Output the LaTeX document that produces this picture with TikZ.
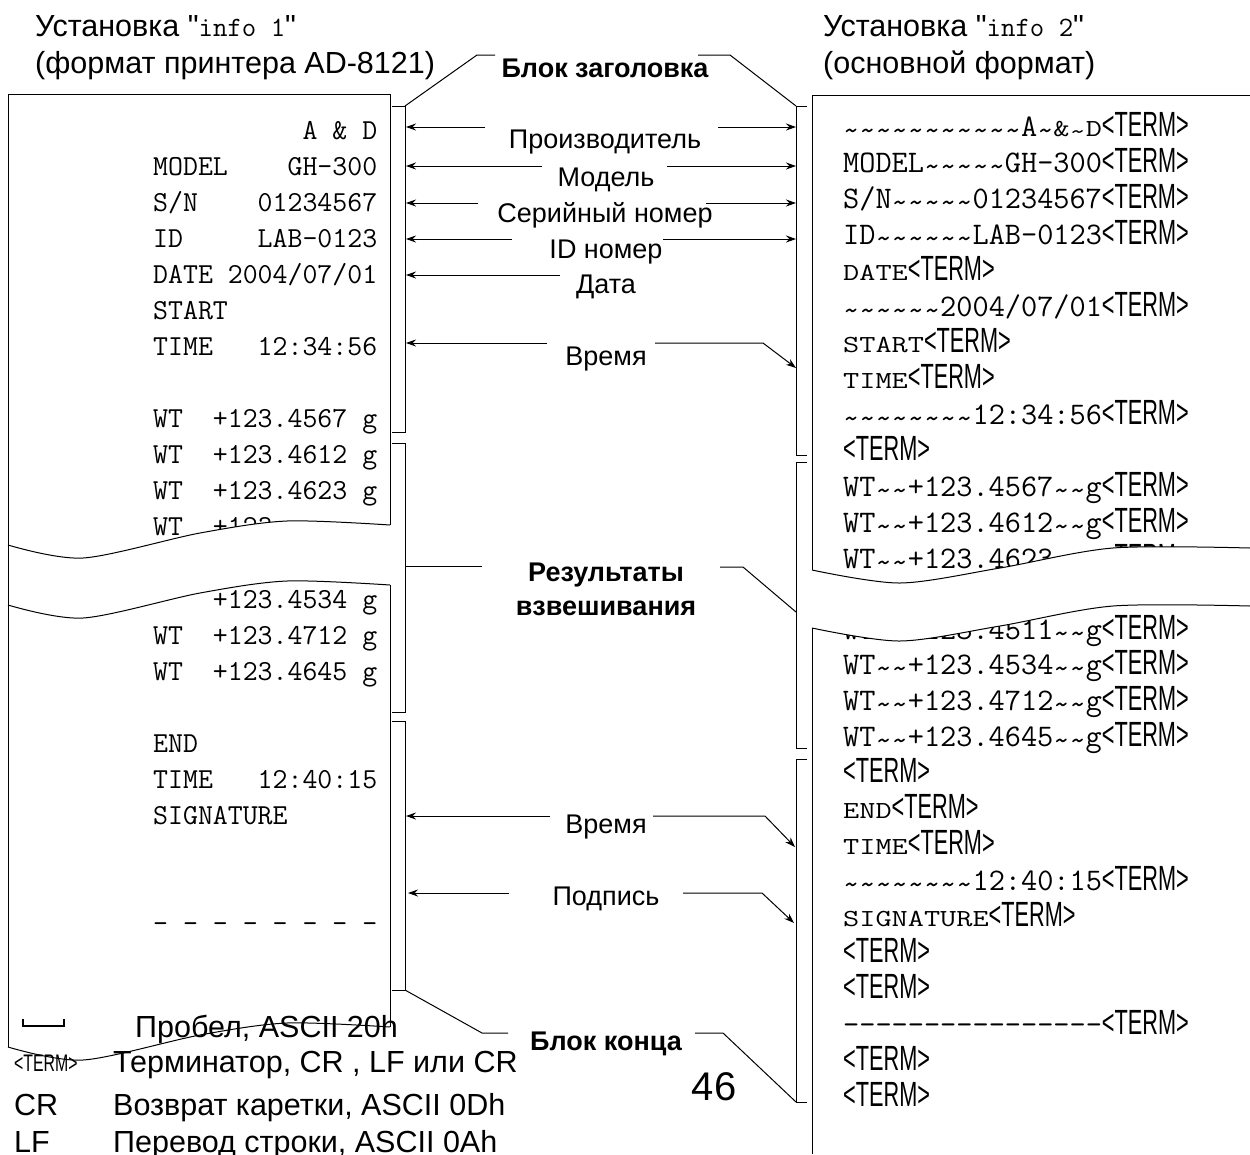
\documentclass[tikz,border=0pt]{standalone}
\usepackage{fontspec}
\usepackage{graphicx}
\setmainfont{Liberation Sans}
\setsansfont{Liberation Sans}
\newfontfamily\plainsans{Liberation Sans}
\usetikzlibrary{arrows.meta}
\newcommand\fs[1]{\fontsize{#1}{#1}\selectfont}
\newcommand\TERM{\scalebox{0.62}[1]{\fs{35}\rmfamily<TERM>}}
\newcommand\sTERM{\scalebox{0.66}[1]{\fs{24}\rmfamily<TERM>}}
\newcommand\tl{\raisebox{-0.14em}{\textasciitilde}}
\newcommand\sm[1]{\scalebox{1}[0.78]{#1}}
\newcommand\qq{{\plainsans\symbol{34}}}
\tikzset{
  ln/.style={line width=1pt},
  arr/.style={line width=1pt,-{Stealth[length=10pt,width=7pt]}},
  lbl/.style={anchor=base,inner sep=0pt,font=\fs{27}},
  blbl/.style={anchor=base,inner sep=0pt,font=\fs{27}\bfseries},
  lm/.style={anchor=base west,inner sep=0pt,font=\fs{29}\ttfamily},
  rm/.style={anchor=base west,inner sep=0pt,font=\fs{31.4}\ttfamily},
  ttl/.style={anchor=base west,inner sep=0pt,font=\fs{30.5}},
}
\begin{document}
\begin{tikzpicture}[x=1pt,y=-1pt]
\useasboundingbox[fill=white] (0,0) rectangle (1250,1154);

% ---------- titles ----------
\node[ttl] (t1a) at (35,36) {Установка \qq\texttt{\fs{28}info 1}\qq};
\node[ttl] (t1b) at (35,73) {(формат принтера AD-8121)};
\node[ttl] (t2a) at (823,36) {Установка \qq\texttt{\fs{28}info 2}\qq};
\node[ttl] (t2b) at (823,73) {(основной формат)};

% ---------- left printout text ----------
\node[lm] (l1) at (153,139.5) {\ \ \ \ \ \ \ \ \ \ A\ \&\ D};
\node[lm] (l2) at (153,175.5) {MODEL\ \ \ \ GH-300};
\node[lm] (l3) at (153,211.5) {S/N\ \ \ \ 01234567};
\node[lm] (l4) at (153,247.5) {ID\ \ \ \ \ LAB-0123};
\node[lm] (l5) at (153,283.5) {DATE\ 2004/07/01};
\node[lm] (l6) at (153,319.5) {START};
\node[lm] (l7) at (153,355.5) {TIME\ \ \ 12:34:56};
\node[lm] (l8) at (153,427.5) {WT\ \ +123.4567\ g};
\node[lm] (l9) at (153,463.5) {WT\ \ +123.4612\ g};
\node[lm] (l10) at (153,499.5) {WT\ \ +123.4623\ g};
\node[lm] (l11) at (153,535.5) {WT\ \ +123};
\node[lm] (l12) at (153,608.5) {\ \ \ \ +123.4534\ g};
\node[lm] (l13) at (153,644.5) {WT\ \ +123.4712\ g};
\node[lm] (l14) at (153,680.5) {WT\ \ +123.4645\ g};
\node[lm] (l15) at (153,752.5) {END};
\node[lm] (l16) at (153,788.5) {TIME\ \ \ 12:40:15};
\node[lm] (l17) at (153,824.5) {SIGNATURE};
\node[lm] (l18) at (153,932.5) {-\ -\ -\ -\ -\ -\ -\ -};

% ---------- right printout text ----------
\node[rm] (r1) at (843,136) {\tl\tl\tl\tl\tl\tl\tl\tl\tl\tl\tl A\tl\sm{\&\tl D}\TERM};
\node[rm] (r2) at (843,172) {MODEL\tl\tl\tl\tl\tl GH-300\TERM};
\node[rm] (r3) at (843,208) {S/N\tl\tl\tl\tl\tl 01234567\TERM};
\node[rm] (r4) at (843,244) {ID\tl\tl\tl\tl\tl\tl LAB-0123\TERM};
\node[rm] (r5) at (843,280) {\sm{DATE}\TERM};
\node[rm] (r6) at (843,316) {\tl\tl\tl\tl\tl\tl 2004/07/01\TERM};
\node[rm] (r7) at (843,352) {\sm{START}\TERM};
\node[rm] (r8) at (843,388) {\sm{TIME}\TERM};
\node[rm] (r9) at (843,424) {\tl\tl\tl\tl\tl\tl\tl\tl 12:34:56\TERM};
\node[rm] (r10) at (843,460) {\TERM};
\node[rm] (r11) at (843,496) {WT\tl\tl+123.4567\tl\tl g\TERM};
\node[rm] (r12) at (843,532) {WT\tl\tl+123.4612\tl\tl g\TERM};
\node[rm] (r13) at (843,568) {WT\tl\tl+123.4623\tl\tl g\TERM};
\node[rm] (r14) at (843,639) {WT\tl\tl+123.4511\tl\tl g\TERM};
\node[rm] (r15) at (843,674) {WT\tl\tl+123.4534\tl\tl g\TERM};
\node[rm] (r16) at (843,710) {WT\tl\tl+123.4712\tl\tl g\TERM};
\node[rm] (r17) at (843,746) {WT\tl\tl+123.4645\tl\tl g\TERM};
\node[rm] (r18) at (843,782) {\TERM};
\node[rm] (r19) at (843,818) {\sm{END}\TERM};
\node[rm] (r20) at (843,854) {\sm{TIME}\TERM};
\node[rm] (r21) at (843,890) {\tl\tl\tl\tl\tl\tl\tl\tl 12:40:15\TERM};
\node[rm] (r22) at (843,926) {\sm{SIGNATURE}\TERM};
\node[rm] (r23) at (843,962) {\TERM};
\node[rm] (r24) at (843,998) {\TERM};
\node[rm] (r25) at (843,1034) {{-}{-}{-}{-}{-}{-}{-}{-}{-}{-}{-}{-}{-}{-}{-}{-}\TERM};
\node[rm] (r26) at (843,1070) {\TERM};
\node[rm] (r27) at (843,1106) {\TERM};

% ---------- paper breaks (white gaps) ----------
\fill[white] plot[smooth] coordinates {(8,545) (83,558) (200,533) (287,521) (390,525)}
  -- (390,585) -- plot[smooth] coordinates {(390,585) (287,581) (200,593) (83,618) (8,605)} -- cycle;
\fill[white] plot[smooth] coordinates {(812,570) (900,583) (1000,568) (1113,548) (1250,548)}
  -- (1250,606) -- plot[smooth] coordinates {(1250,606) (1113,606) (1000,626) (900,641) (812,628)} -- cycle;

% ---------- left paper outline ----------
\draw[ln] (8,1047) -- (8,94) -- (390,94) -- (390,525);
\draw[ln] plot[smooth] coordinates {(8,545) (83,558) (200,533) (287,521) (390,525)};
\draw[ln] plot[smooth] coordinates {(8,605) (83,618) (200,593) (287,581) (390,585)};
\draw[ln] (390,585) -- (390,1027);
\draw[ln] plot[smooth] coordinates {(8,1047) (83,1060) (200,1035) (287,1023) (390,1027)};

% ---------- right paper outline ----------
\draw[ln] (1250,95) -- (812,95) -- (812,570);
\draw[ln] plot[smooth] coordinates {(812,570) (900,583) (1000,568) (1113,548) (1250,548)};
\draw[ln] plot[smooth] coordinates {(812,628) (900,641) (1000,626) (1113,606) (1250,606)};
\draw[ln] (812,628) -- (812,1154);

% ---------- brackets ----------
\coordinate (LB1t) at (405,106); \coordinate (LB1b) at (405,432);
\coordinate (LB2t) at (405,443); \coordinate (LB2b) at (405,712);
\coordinate (LB3t) at (405,721); \coordinate (LB3b) at (405,990);
\coordinate (RB1t) at (796,106); \coordinate (RB1b) at (796,455);
\coordinate (RB2t) at (796,462); \coordinate (RB2b) at (796,748);
\coordinate (RB3t) at (796,759); \coordinate (RB3b) at (796,1102);
\draw[ln] ([xshift=-13pt]LB1t) -- (LB1t) -- (LB1b) -- ([xshift=-13pt]LB1b);
\draw[ln] ([xshift=-13pt]LB2t) -- (LB2t) -- (LB2b) -- ([xshift=-13pt]LB2b);
\draw[ln] ([xshift=-13pt]LB3t) -- (LB3t) -- (LB3b) -- ([xshift=-13pt]LB3b);
\draw[ln] ([xshift=11pt]RB1t) -- (RB1t) -- (RB1b) -- ([xshift=11pt]RB1b);
\draw[ln] ([xshift=11pt]RB2t) -- (RB2t) -- (RB2b) -- ([xshift=11pt]RB2b);
\draw[ln] ([xshift=11pt]RB3t) -- (RB3t) -- (RB3b) -- ([xshift=11pt]RB3b);

% ---------- block labels ----------
\node[blbl] (hdr) at (605,77) {Блок заголовка};
\coordinate (h1) at (477,55); \coordinate (h2) at (495,55);
\coordinate (h3) at (698,55); \coordinate (h4) at (730,55);
\draw[ln] (LB1t) -- (h1) -- (h2);
\draw[ln] (h3) -- (h4) -- (RB1t);

\node[blbl] (res1) at (606,581) {Результаты};
\node[blbl] (res2) at (606,615) {взвешивания};
\coordinate (LB2m) at (405,566); \coordinate (w1) at (482,566);
\coordinate (w2) at (720,567); \coordinate (w3) at (743,567); \coordinate (RB2m) at (796,612);
\draw[ln] (LB2m) -- (w1);
\draw[ln] (w2) -- (w3) -- (RB2m);

\node[blbl] (end) at (606,1050) {Блок конца};
\coordinate (e1) at (482,1033); \coordinate (e2) at (508,1033);
\coordinate (e3) at (695,1033); \coordinate (e4) at (723,1033);
\draw[ln] (LB3b) -- (e1) -- (e2);
\draw[ln] (e3) -- (e4) -- (RB3b);

% ---------- field labels and arrows ----------
\node[lbl] (mfr) at (605,148) {Производитель};
\coordinate (a1l) at (485,127); \coordinate (a1L) at (406,127);
\coordinate (a1r) at (718,127); \coordinate (a1R) at (796,127);
\draw[arr] (a1l) -- (a1L); \draw[arr] (a1r) -- (a1R);

\node[lbl] (mdl) at (606,186) {Модель};
\coordinate (a2l) at (542,166); \coordinate (a2L) at (406,166);
\coordinate (a2r) at (667,166); \coordinate (a2R) at (796,166);
\draw[arr] (a2l) -- (a2L); \draw[arr] (a2r) -- (a2R);

\node[lbl] (sn) at (605,222) {Серийный номер};
\coordinate (a3l) at (478,203); \coordinate (a3L) at (406,203);
\coordinate (a3r) at (706,203); \coordinate (a3R) at (796,203);
\draw[arr] (a3l) -- (a3L); \draw[arr] (a3r) -- (a3R);

\node[lbl] (idn) at (606,258) {ID номер};
\coordinate (a4l) at (512,239); \coordinate (a4L) at (406,239);
\coordinate (a4r) at (663,239); \coordinate (a4R) at (796,239);
\draw[arr] (a4l) -- (a4L); \draw[arr] (a4r) -- (a4R);

\node[lbl] (dt) at (606,293) {Дата};
\coordinate (a5l) at (560,275); \coordinate (a5L) at (406,275);
\draw[arr] (a5l) -- (a5L);

\node[lbl] (tm1) at (606,365) {Время};
\coordinate (a6l) at (547,343); \coordinate (a6L) at (406,343);
\coordinate (a6r) at (655,343); \coordinate (a6k) at (763,343); \coordinate (a6R) at (796,368);
\draw[arr] (a6l) -- (a6L); \draw[arr] (a6r) -- (a6k) -- (a6R);

\node[lbl] (tm2) at (606,833) {Время};
\coordinate (a7l) at (550,816); \coordinate (a7L) at (406,816);
\coordinate (a7r) at (653,816); \coordinate (a7k) at (765,816); \coordinate (a7R) at (795,847);
\draw[arr] (a7l) -- (a7L); \draw[arr] (a7r) -- (a7k) -- (a7R);

\node[lbl] (sig) at (606,905) {Подпись};
\coordinate (a8l) at (509,893); \coordinate (a8L) at (408,893);
\coordinate (a8r) at (683,893); \coordinate (a8k) at (762,893); \coordinate (a8R) at (794,923);
\draw[arr] (a8l) -- (a8L); \draw[arr] (a8r) -- (a8k) -- (a8R);

% ---------- legend ----------
\draw[line width=2.5pt] (23,1019) -- (23,1026) -- (64,1026) -- (64,1019);
\node[ttl] (lg1) at (135,1037) {Пробел, ASCII 20h};
\node[anchor=base west,inner sep=0pt] (lg2k) at (14,1071) {\sTERM};
\node[ttl] (lg2) at (113,1072) {Терминатор, CR , LF или CR};
\node[ttl] (lg3k) at (14,1115) {CR};
\node[ttl] (lg3) at (113,1115) {Возврат каретки, ASCII 0Dh};
\node[ttl] (lg4k) at (14,1152) {LF};
\node[ttl] (lg4) at (113,1152) {Перевод строки, ASCII 0Ah};

\node[anchor=base,inner sep=0pt,font=\fs{40}] (pg) at (714,1100) {46};
\end{tikzpicture}
\end{document}
